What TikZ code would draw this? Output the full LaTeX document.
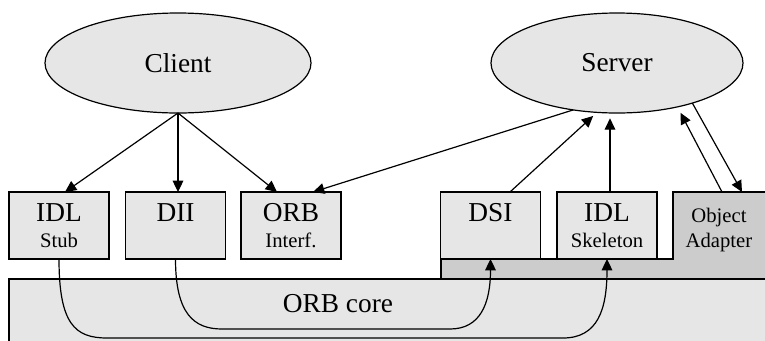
\documentclass[tikz,border=0pt]{standalone}
\usepackage{fontspec}
\setmainfont{Liberation Serif}
\usetikzlibrary{shapes.geometric,arrows.meta}
\definecolor{fillLight}{RGB}{230,230,230}
\definecolor{fillDark}{RGB}{204,204,204}
\newcommand{\bigfont}{\fontsize{20.5}{19.5}\selectfont}
\newcommand{\smallfont}{\fontsize{15.5}{18.75}\selectfont}

\begin{document}
\begin{tikzpicture}[x=0.75pt, y=-0.75pt, >={Triangle[length=8.5pt,width=8pt]}, line width=0.9pt]

  % Page frame (765 x 340)
  \useasboundingbox (0,0) rectangle (765,340);

  % Helper styles
  \tikzset{
    part/.style={
      draw, fill=fillLight,
      minimum width=75pt, minimum height=50.25pt,
      inner sep=0pt, outer sep=0pt,
      align=center, font=\bigfont
    },
    actor/.style={
      ellipse, draw, fill=fillLight,
      minimum height=75pt,
      inner sep=0pt, outer sep=0pt,
      font=\bigfont
    },
    link/.style={->}
  }

  % ORB core (runs off the page at right and bottom)
  \draw[fill=fillLight] (9,279) rectangle (775,350);
  \node[font=\bigfont] (core) at (338,304) {ORB core};

  % Server side layer, with the object adapter on it
  \draw[fill=fillDark] (441,279) -- (441,259) -- (673,259) -- (673,192)
    -- (775,192) -- (775,279) -- cycle;
  \node[anchor=north, minimum width=69pt, minimum height=56.6pt,
        inner sep=0pt, align=center, font=\smallfont] (adapter) at (719,192) {Object\\Adapter};

  % --- Stubs and skeletons ---
  \node[part] (stub)  at (59,225.5)  {IDL\\{\smallfont Stub}};
  \node[part] (dii)   at (175.5,225.5) {DII\\{\smallfont\phantom{Stub}}};
  \node[part] (orbif) at (291,225.5) {ORB\\{\smallfont Interf.}};
  \node[part] (dsi)   at (490.5,225.5) {DSI\\{\smallfont\phantom{Stub}}};
  \node[part] (skel)  at (607,225.5) {IDL\\{\smallfont Skeleton}};

  % --- Client and server ---
  \node[actor, minimum width=199.5pt] (client) at (178,63) {Client};
  \node[actor, minimum width=189pt]   (server) at (617,63) {Server};

  % Client calls
  \draw[link] (client.south) -- ([xshift=4.5pt]stub.north);
  \draw[link] (client.south) -- (client.south |- dii.north);
  \draw[link] (client.south) -- ([xshift=-10.5pt]orbif.north);

  % Server side
  \draw[link] (server.227) -- ([xshift=16.5pt]orbif.north);
  \draw[link, shorten >=4pt] ([xshift=14.6pt]dsi.north) -- (server.248);
  \draw[link, shorten >=4pt] ([xshift=2.25pt]skel.north) -- ([xshift=2.25pt]skel.north |- server.south);
  \draw[link, shorten >=5pt] ([xshift=2.25pt]adapter.north) -- (server.324);
  \draw[link] (server.332) -- ([xshift=17.25pt]adapter.north);

  % Requests through the ORB core
  \draw[link] (stub.south) .. controls +(0,65) and +(-32,0) .. (107,338)
    -- (563,338) .. controls +(35,0) and +(0,50) .. (skel.south);
  \draw[link] (dii.south) .. controls +(0,55) and +(-28,0) .. (222,329)
    -- (450,329) .. controls +(30,0) and +(0,45) .. (dsi.south);

\end{tikzpicture}
\end{document}
